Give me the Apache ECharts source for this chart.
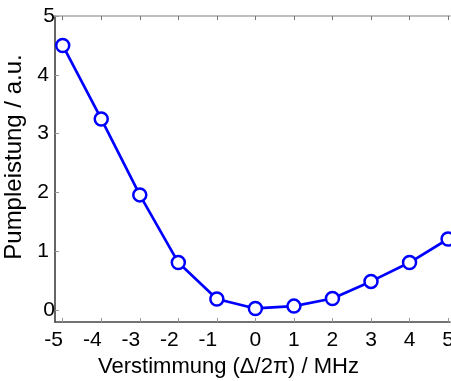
<!DOCTYPE html>
<html>
<head>
<meta charset="utf-8">
<script src="https://cdn.jsdelivr.net/npm/echarts@6/dist/echarts.min.js"></script>
<style>
html,body{margin:0;padding:0;background:#fff;}
#chart{width:451px;height:381px;}
</style>
</head>
<body>
<div id="chart"></div>
<script>
var detuning = [-5, -4, -3, -2, -1, 0, 1, 2, 3, 4, 5];
var pumpPower = [4.5, 3.25, 1.96, 0.81, 0.19, 0.03, 0.07, 0.2, 0.49, 0.81, 1.21];
var xTicks = [-5, -4, -3, -2, -1, 0, 1, 2, 3, 4, 5];
var yTicks = [0, 1, 2, 3, 4, 5];

var font = 'Liberation Sans, Arial, sans-serif';
var chart = echarts.init(document.getElementById('chart'), null, {renderer: 'canvas'});
var data = detuning.map(function (x, i) { return [x, pumpPower[i]]; });
var tickText = {fontFamily: font, fontSize: 21, color: '#000'};

chart.setOption({
  animation: false,
  backgroundColor: '#ffffff',
  grid: {left: 55, top: 16, right: 1, bottom: 59, containLabel: false, outerBoundsMode: 'none'},
  xAxis: [{
    type: 'value', min: -5.2, max: 5.05, position: 'bottom',
    name: 'Verstimmung (\u0394/2\u03c0) / MHz', nameLocation: 'middle', nameGap: 34,
    nameTextStyle: {fontFamily: font, fontSize: 22, color: '#000', padding: [0, 48, 0, 0]},
    axisLine: {show: true, onZero: false, lineStyle: {color: '#444', width: 1.5}},
    axisTick: {show: true, inside: true, length: 4, customValues: xTicks, lineStyle: {color: '#999'}},
    axisLabel: {
      show: true, customValues: xTicks, margin: 8, fontFamily: font, fontSize: 21, color: '#000',
      alignMinLabel: 'center', alignMaxLabel: 'center', hideOverlap: false,
      formatter: function (v) { return v < 0 ? '{neg|' + v + '}' : '{pos|' + v + '}'; },
      rich: {
        neg: Object.assign({padding: [0, 18, 0, 0]}, tickText),
        pos: Object.assign({}, tickText)
      }
    },
    splitLine: {show: false}
  }, {
    type: 'value', min: -5.2, max: 5.05, position: 'top',
    axisLine: {show: true, onZero: false, lineStyle: {color: '#aaa', width: 1.5}},
    axisTick: {show: true, inside: true, length: 4, customValues: xTicks, lineStyle: {color: '#777'}},
    axisLabel: {show: false},
    splitLine: {show: false}
  }],
  yAxis: [{
    type: 'value', min: -0.2, max: 5,
    name: 'Pumpleistung / a.u.', nameLocation: 'middle', nameGap: 21, nameRotate: 90,
    nameTextStyle: {fontFamily: font, fontSize: 24, color: '#000', padding: [0, 0, 0, 24]},
    axisLine: {show: true, onZero: false, lineStyle: {color: '#333', width: 1.5}},
    axisTick: {show: true, inside: true, length: 4, customValues: yTicks, lineStyle: {color: '#999'}},
    axisLabel: {show: true, customValues: yTicks, margin: 6, fontFamily: font, fontSize: 21, color: '#000',
      alignMinLabel: 'center', alignMaxLabel: 'center'},
    splitLine: {show: false}
  }],
  series: [{
    type: 'line',
    data: data,
    clip: false,
    symbol: 'circle',
    symbolSize: 13,
    lineStyle: {color: '#0000ff', width: 2.7},
    itemStyle: {color: '#ffffff', borderColor: '#0000ff', borderWidth: 2.5}
  }]
});
</script>
</body>
</html>
